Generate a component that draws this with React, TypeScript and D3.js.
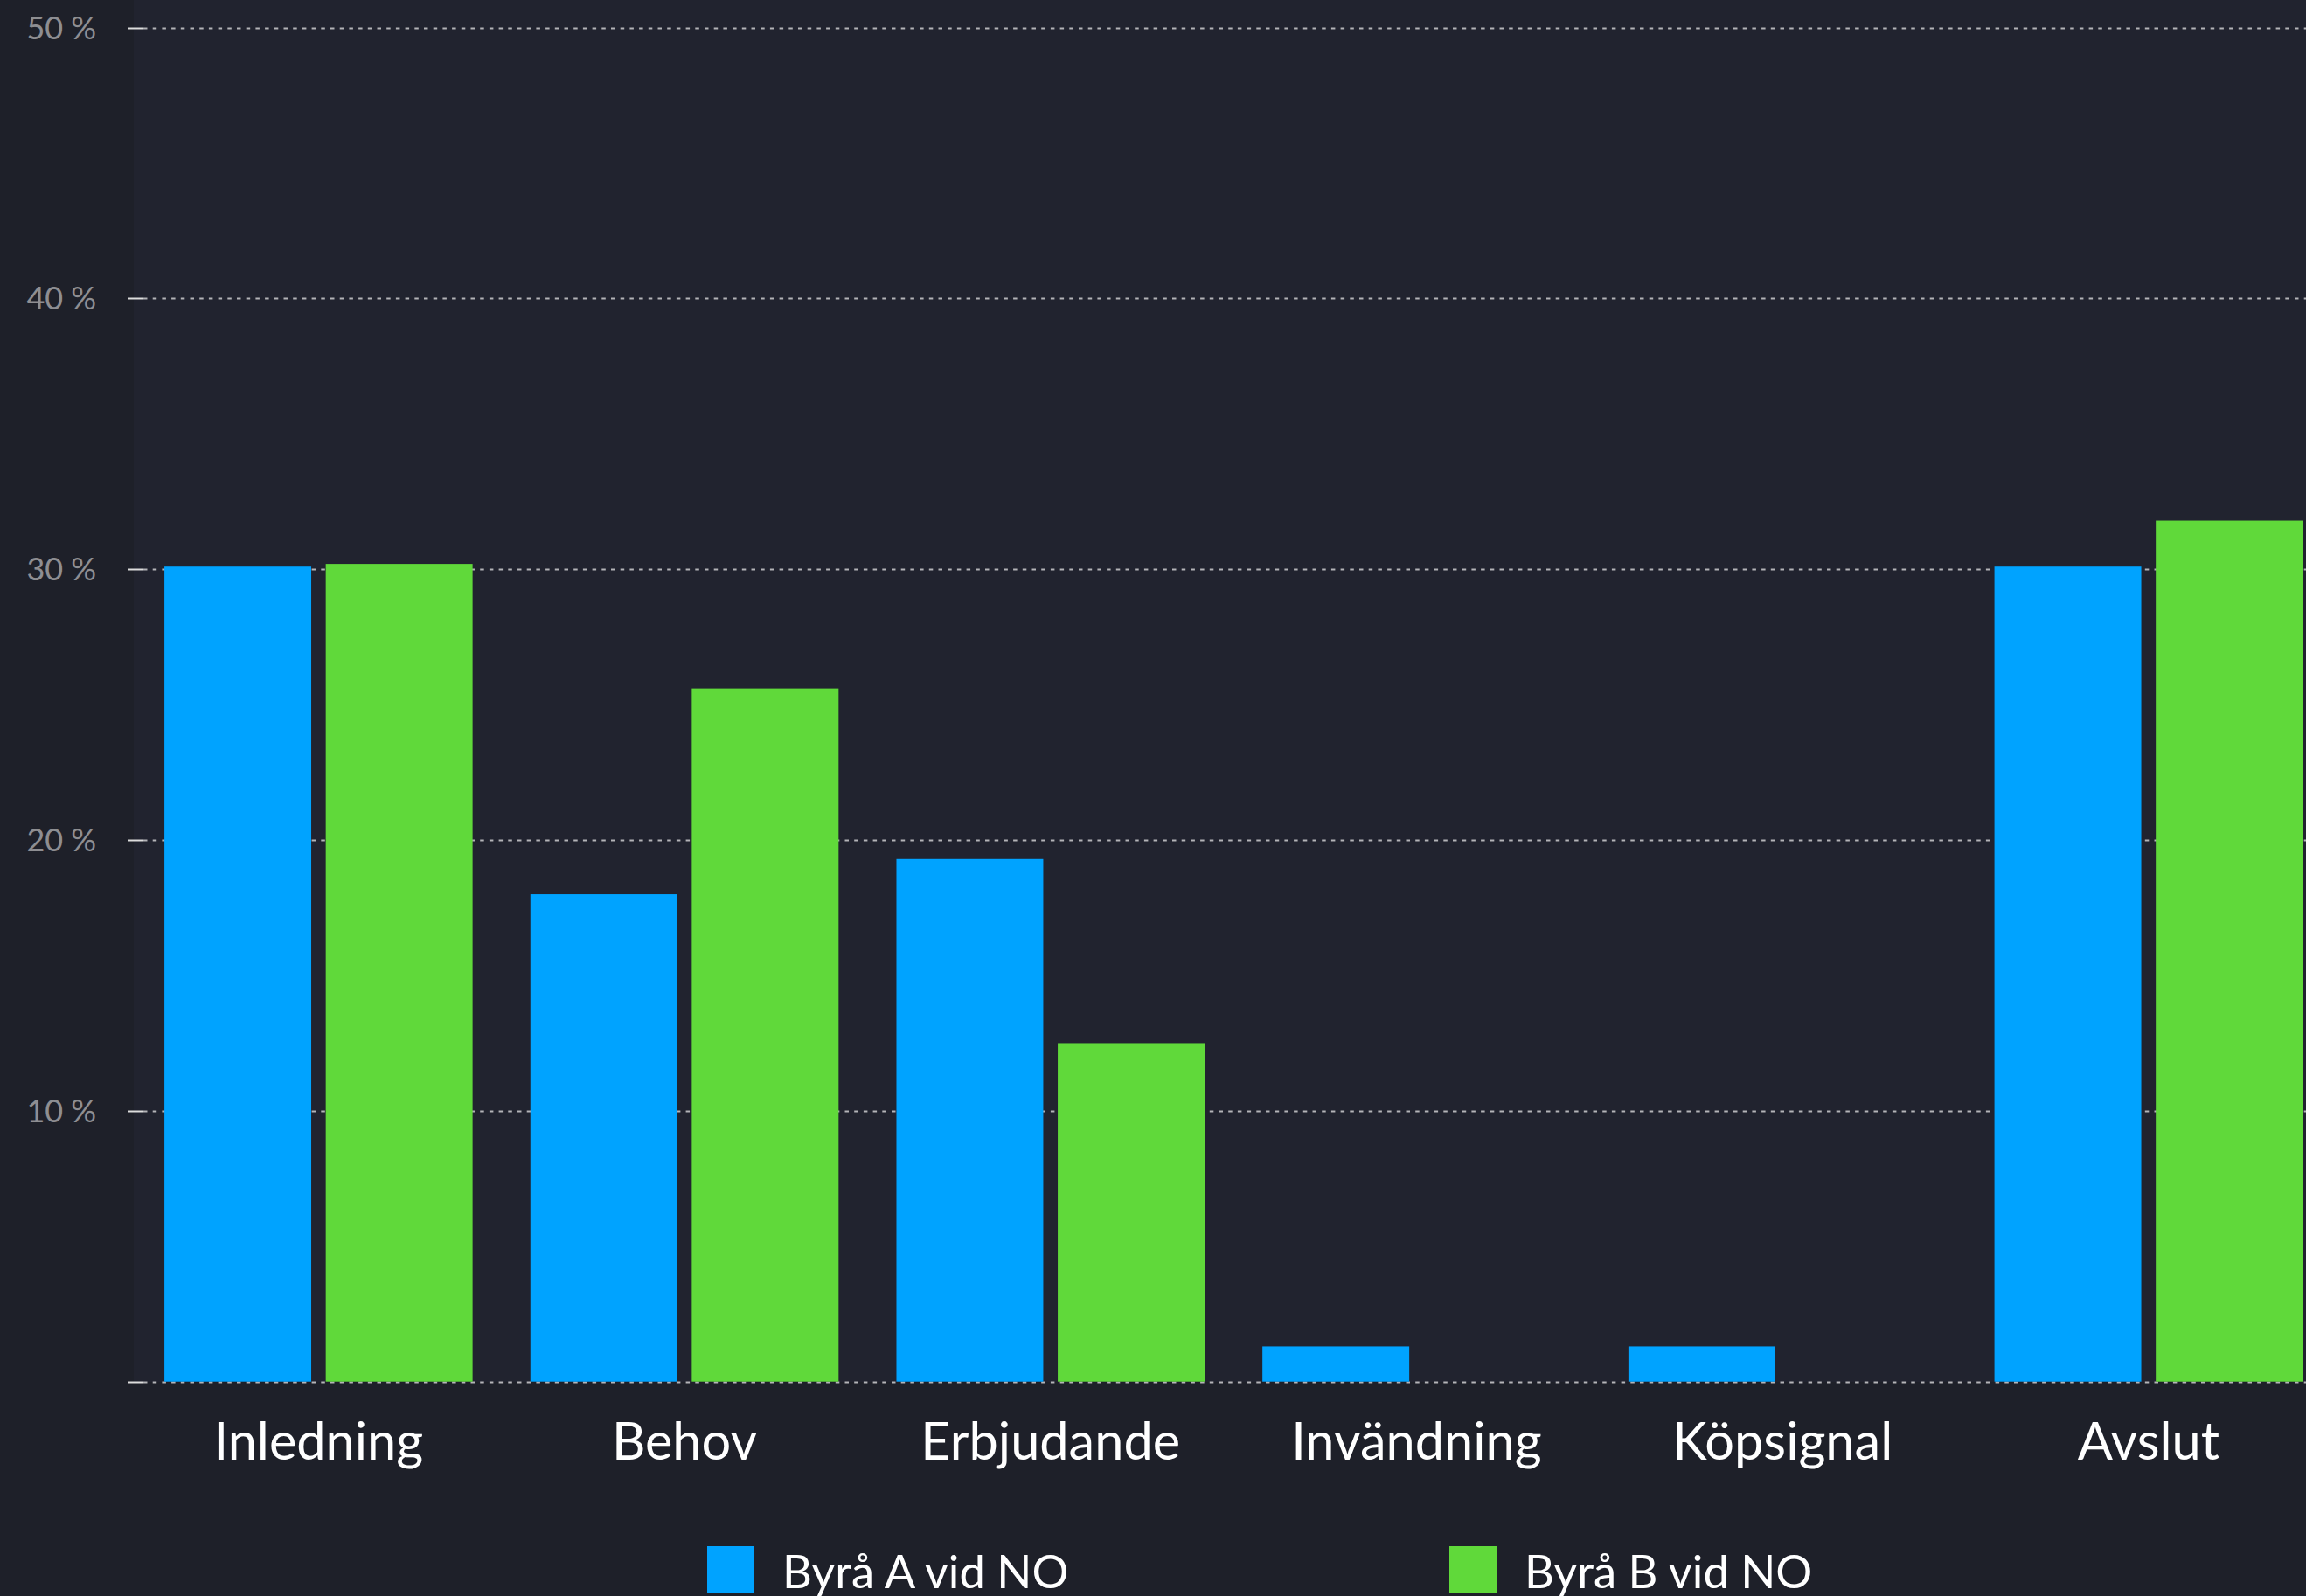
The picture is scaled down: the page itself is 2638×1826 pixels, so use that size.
import React, { useEffect, useRef } from "react";
import * as d3 from "d3";

const categories = ["Inledning", "Behov", "Erbjudande", "Invändning", "Köpsignal", "Avslut"];
const seriesNames = ["Byrå A vid NO", "Byrå B vid NO"];
const seriesA = [30.1, 18.0, 19.3, 1.3, 1.3, 30.1];
const seriesB = [30.2, 25.6, 12.5, 0, 0, 31.8];
const yTicks = [0, 10, 20, 30, 40, 50];
const colors = ["#00a3ff", "#60d93a"];

const W = 2638;
const H = 1826;

export default function App() {
  const ref = useRef<SVGSVGElement | null>(null);

  useEffect(() => {
    document.body.style.margin = "0";
    document.body.style.background = "#1e2029";
    const svg = d3.select(ref.current);
    svg.selectAll("*").remove();

    const plotLeft = 153;
    const plotBottom = 1581;
    const y = d3.scaleLinear().domain([0, 50]).range([1580.7, 31.7]);
    const step = 418.7;
    const bandStart = 155;
    const x0 = d3
      .scaleBand<string>()
      .domain(categories)
      .range([bandStart, bandStart + step * categories.length])
      .paddingInner(0.158)
      .paddingOuter(0.079);
    const x1 = d3
      .scaleBand<string>()
      .domain(seriesNames)
      .range([0, x0.bandwidth()])
      .paddingInner(0.09)
      .paddingOuter(0);

    svg.append("rect").attr("x", 0).attr("y", 0).attr("width", W).attr("height", H).attr("fill", "#1e2029");
    svg
      .append("rect")
      .attr("x", plotLeft)
      .attr("y", 0)
      .attr("width", W - plotLeft)
      .attr("height", plotBottom)
      .attr("fill", "#21232f");

    // grid
    const g = svg.append("g");
    yTicks.forEach((t) => {
      const yy = Math.round(y(t)) + 0.5;
      g.append("line")
        .attr("x1", 164)
        .attr("x2", W)
        .attr("y1", yy)
        .attr("y2", yy)
        .attr("stroke", "#b4b4b8")
        .attr("stroke-width", 2)
        .attr("stroke-dasharray", "4.5,6.2");
      g.append("line")
        .attr("x1", 147)
        .attr("x2", 164)
        .attr("y1", yy)
        .attr("y2", yy)
        .attr("stroke", "#dcdcdc")
        .attr("stroke-width", 2);
      if (t > 0) {
        g.append("text")
          .attr("x", 110)
          .attr("y", y(t))
          .attr("dy", "0.36em")
          .attr("text-anchor", "end")
          .attr("fill", "#8e8e92")
          .attr("font-family", "Lato, sans-serif")
          .attr("font-size", 36)
          .text(`${t}\u2005%`);
      }
    });

    const series = [seriesA, seriesB];
    const bars = svg.append("g");
    categories.forEach((c, i) => {
      series.forEach((vals, s) => {
        const v = vals[i];
        if (v <= 0) return;
        bars
          .append("rect")
          .attr("x", (x0(c) as number) + (x1(seriesNames[s]) as number))
          .attr("y", y(v))
          .attr("width", x1.bandwidth())
          .attr("height", y(0) - y(v))
          .attr("fill", colors[s]);
      });
    });

    // x labels
    categories.forEach((c) => {
      svg
        .append("text")
        .attr("x", (x0(c) as number) + x0.bandwidth() / 2)
        .attr("y", 1670)
        .attr("text-anchor", "middle")
        .attr("fill", "#ffffff")
        .attr("font-family", "Lato, sans-serif")
        .attr("font-size", 59.5)
        .text(c);
    });

    // legend
    const legendX = [809, 1658];
    seriesNames.forEach((name, s) => {
      svg
        .append("rect")
        .attr("x", legendX[s])
        .attr("y", 1769)
        .attr("width", 54)
        .attr("height", 54)
        .attr("fill", colors[s]);
      svg
        .append("text")
        .attr("x", legendX[s] + 86)
        .attr("y", 1817)
        .attr("fill", "#ffffff")
        .attr("font-family", "Lato, sans-serif")
        .attr("font-size", 52.5)
        .text(name);
    });
  }, []);

  return <svg ref={ref} width={W} height={H} style={{ display: "block" }} />;
}
